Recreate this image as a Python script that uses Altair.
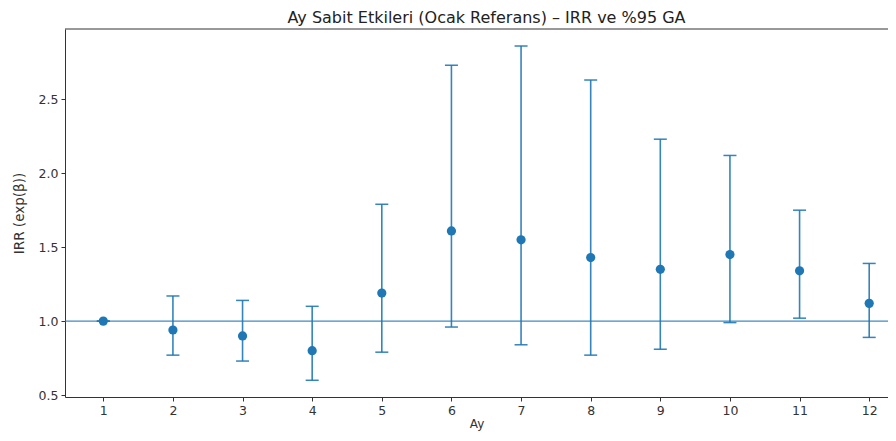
import altair as alt
import pandas as pd

months = [1, 2, 3, 4, 5, 6, 7, 8, 9, 10, 11, 12]
irr = [1.00, 0.94, 0.90, 0.80, 1.19, 1.61, 1.55, 1.43, 1.35, 1.45, 1.34, 1.12]
ci_low = [1.00, 0.77, 0.73, 0.60, 0.79, 0.96, 0.84, 0.77, 0.81, 0.99, 1.02, 0.89]
ci_high = [1.00, 1.17, 1.14, 1.10, 1.79, 2.73, 2.86, 2.63, 2.23, 2.12, 1.75, 1.39]
y_ticks = [0.5, 1.0, 1.5, 2.0, 2.5]
ref_value = [1.0]

df = pd.DataFrame({"ay": months, "irr": irr, "lo": ci_low, "hi": ci_high})
ref = pd.DataFrame({"ref": ref_value})

FONT = "DejaVu Sans"
BLUE = "#1f77b4"
W, H = 823, 368

xs = alt.Scale(domain=[0.45, 12.27], nice=False, zero=False)
ys = alt.Scale(domain=[0.487, 2.975], nice=False, zero=False)

x_axis = alt.Axis(values=months, format="d", title="Ay", grid=False, tickSize=4, labelPadding=3,
                  titlePadding=2, titleFontSize=12, labelFontSize=12.5)
y_axis = alt.Axis(values=y_ticks, format=".1f", title="IRR (exp(β))", grid=False,
                  tickSize=4, labelPadding=3, titlePadding=12, titleFontSize=13.5,
                  labelFontSize=12.5)

base = alt.Chart(df)

hline = alt.Chart(ref).mark_rule(color=BLUE, strokeWidth=1.3, opacity=0.85).encode(
    y=alt.Y("ref:Q", scale=ys, axis=y_axis)
)

bars = base.mark_rule(color=BLUE, strokeWidth=1.6, opacity=0.9).encode(
    x=alt.X("ay:Q", scale=xs, axis=x_axis),
    y=alt.Y("lo:Q", scale=ys, axis=y_axis),
    y2="hi:Q",
)

cap_lo = base.mark_tick(color=BLUE, orient="horizontal", size=13, thickness=1.5, opacity=0.9).encode(
    x=alt.X("ay:Q", scale=xs), y=alt.Y("lo:Q", scale=ys)
)
cap_hi = base.mark_tick(color=BLUE, orient="horizontal", size=13, thickness=1.5, opacity=0.9).encode(
    x=alt.X("ay:Q", scale=xs), y=alt.Y("hi:Q", scale=ys)
)

points = base.mark_circle(color=BLUE, size=85, opacity=1).encode(
    x=alt.X("ay:Q", scale=xs), y=alt.Y("irr:Q", scale=ys)
)

top_spine = alt.Chart(ref).mark_rule(color="#333333", strokeWidth=1).encode(
    x=alt.value(0), x2=alt.value(W), y=alt.value(0)
)

chart = alt.layer(hline, bars, cap_lo, cap_hi, points, top_spine).properties(
    width=W,
    height=H,
    autosize=alt.AutoSizeParams(type="none"),
    padding={"left": 57, "top": 21, "right": 0, "bottom": 35},
    title=alt.TitleParams(
        "Ay Sabit Etkileri (Ocak Referans) – IRR ve %95 GA",
        fontSize=16, font=FONT, fontWeight="normal", color="#222222",
        anchor="middle", offset=3, dx=10,
    ),
).configure_view(stroke=None).configure_axis(
    labelFont=FONT, titleFont=FONT, labelColor="#333333", titleColor="#333333",
    titleFontWeight="normal", domainColor="#333333", tickColor="#333333",
    domainWidth=1, tickWidth=1,
)

chart.save("out.html", embed_options={"renderer": "svg", "actions": False})
